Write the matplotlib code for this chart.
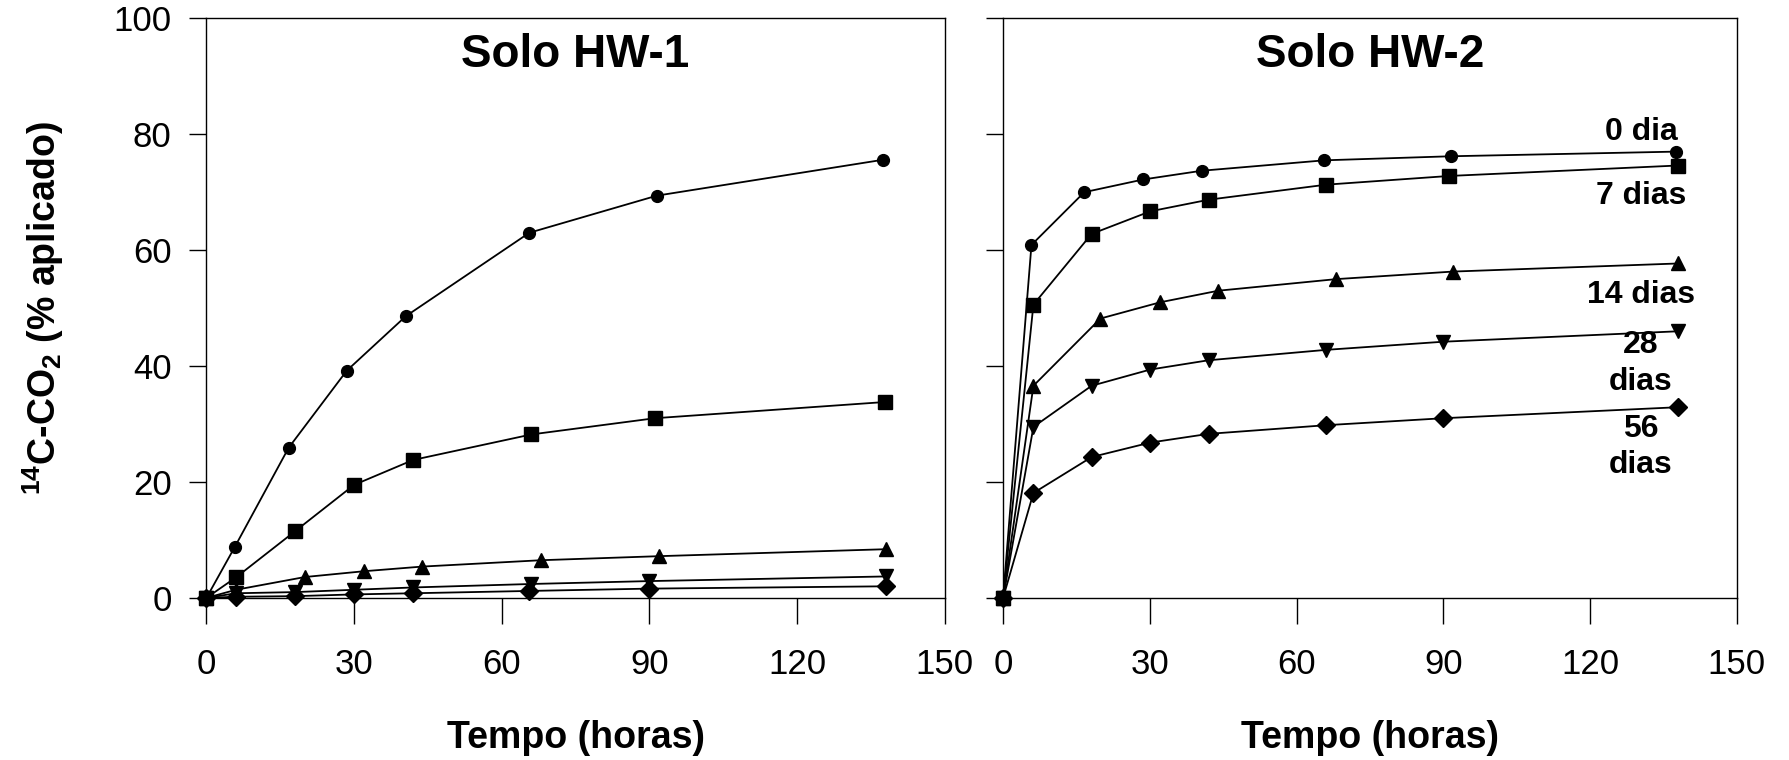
import matplotlib

matplotlib.use("Agg")
import matplotlib.pyplot as plt

plt.rcParams["font.family"] = ["Liberation Sans", "DejaVu Sans"]
plt.rcParams["mathtext.default"] = "regular"

# Solo HW-1
HW1_X = {
    "0": [0, 5.7, 16.7, 28.5, 40.5, 65.6, 91.5, 137.5],
    "7": [0, 6.1, 18.0, 30.0, 42.0, 66.0, 91.1, 137.9],
    "14": [0, 6.0, 20.0, 32.0, 43.8, 68.0, 92.0, 138.0],
    "28": [0, 6.0, 18.0, 30.0, 42.0, 66.0, 90.0, 138.0],
    "56": [0, 6.0, 18.0, 30.0, 42.0, 65.6, 90.0, 138.0],
}
HW1_Y = {
    "0": [0, 8.7, 25.9, 39.2, 48.6, 63.0, 69.4, 75.6],
    "7": [0, 3.6, 11.5, 19.5, 23.8, 28.2, 31.0, 33.8],
    "14": [0, 1.4, 3.6, 4.6, 5.4, 6.5, 7.2, 8.4],
    "28": [0, 0.8, 1.0, 1.4, 1.8, 2.4, 2.9, 3.7],
    "56": [0, 0.2, 0.3, 0.6, 0.8, 1.2, 1.6, 2.0],
}

# Solo HW-2
HW2_X = {
    "0": [0, 5.8, 16.6, 28.7, 40.6, 65.7, 91.6, 137.6],
    "7": [0, 6.2, 18.1, 30.1, 42.0, 66.1, 91.2, 137.9],
    "14": [0, 6.2, 19.9, 32.1, 44.0, 68.1, 91.9, 138.0],
    "28": [0, 6.2, 18.1, 30.1, 42.0, 66.1, 90.0, 138.0],
    "56": [0, 6.2, 18.1, 30.1, 42.0, 66.1, 90.0, 138.0],
}
HW2_Y = {
    "0": [0, 60.9, 70.0, 72.2, 73.7, 75.5, 76.2, 77.0],
    "7": [0, 50.6, 62.8, 66.7, 68.7, 71.3, 72.8, 74.6],
    "14": [0, 36.6, 48.2, 51.0, 53.0, 55.0, 56.3, 57.7],
    "28": [0, 29.5, 36.6, 39.4, 41.0, 42.8, 44.2, 46.0],
    "56": [0, 18.1, 24.3, 26.8, 28.3, 29.8, 31.0, 32.9],
}

MARKERS = {"0": ("o", 8.5), "7": ("s", 10), "14": ("^", 10.5), "28": ("v", 10.5), "56": ("D", 9)}

LABELS = ["0 dia", "7 dias", "14 dias", "28", "dias", "56", "dias"]
LABEL_Y = [80.4, 69.4, 52.3, 43.6, 37.2, 29.2, 22.9]
LABEL_X = 130.4

TITLES = ["Solo HW-1", "Solo HW-2"]
XTICKS = [0, 30, 60, 90, 120, 150]
YTICKS = [0, 20, 40, 60, 80, 100]


def main() -> None:
    fig = plt.figure(figsize=(17.89, 7.6), dpi=100)
    ax0 = fig.add_axes([0.1154, 0.2133, 0.4127, 0.7626])
    ax1 = fig.add_axes([0.5607, 0.2133, 0.4101, 0.7626])

    for ax, xs, ys, title in ((ax0, HW1_X, HW1_Y, TITLES[0]), (ax1, HW2_X, HW2_Y, TITLES[1])):
        for key in xs:
            marker, size = MARKERS[key]
            ax.plot(
                xs[key],
                ys[key],
                color="black",
                linewidth=1.3,
                marker=marker,
                markersize=size,
                clip_on=False,
                zorder=3,
            )
        ax.set_xlim(0, 150)
        ax.set_ylim(0, 100)
        ax.set_xticks(XTICKS)
        ax.set_yticks(YTICKS)
        ax.tick_params(axis="x", direction="out", length=19, width=1.0, pad=17, labelsize=25)
        ax.tick_params(axis="y", direction="out", length=12, width=1.0, pad=13, labelsize=25)
        for spine in ax.spines.values():
            spine.set_linewidth(1.0)
        ax.text(0.5, 0.937, title, transform=ax.transAxes, ha="center", va="center",
                fontsize=33, fontweight="bold")
        ax.set_xlabel("Tempo (horas)", fontsize=27, fontweight="bold", labelpad=28)

    ax1.tick_params(axis="y", labelleft=False)
    ax0.set_ylabel(r"$^{14}$C-CO$_2$ (% aplicado)", fontsize=27, fontweight="bold", labelpad=34)

    for label, y in zip(LABELS, LABEL_Y):
        ax1.text(LABEL_X, y, label, ha="center", va="center", fontsize=23, fontweight="bold")

    fig.savefig("out.png")


if __name__ == "__main__":
    main()
